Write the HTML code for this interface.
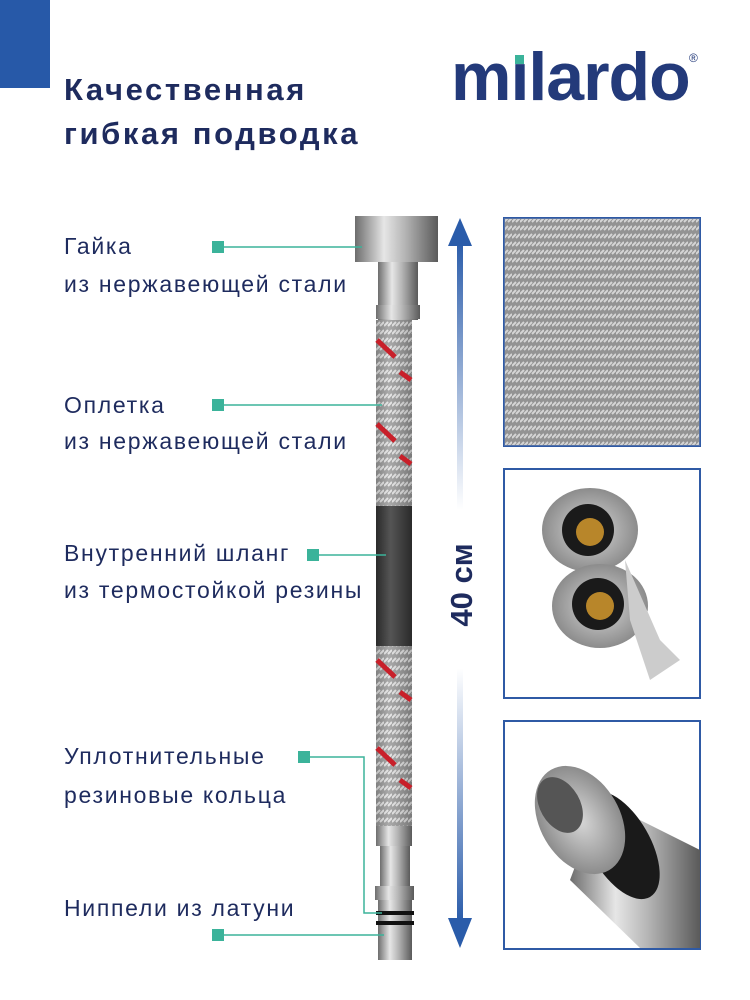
<!DOCTYPE html>
<html><head><meta charset="utf-8"><style>
body{margin:0;width:750px;height:1000px;background:#fff;position:relative;overflow:hidden;font-family:"Liberation Sans","DejaVu Sans",sans-serif;}
.t{position:absolute;color:#1e2b5e;white-space:nowrap}
.h{font-size:31px;font-weight:bold;left:64px;letter-spacing:2.6px}
.l{font-size:23px;left:64px;letter-spacing:1.7px}
</style></head><body>
<div style="position:absolute;left:0;top:0;width:50px;height:88px;background:#2759a8"></div>
<div class="t h" style="top:72px">Качественная</div>
<div class="t h" style="top:116px">гибкая подводка</div>
<div class="t" style="left:451px;top:38px;font-size:68px;font-weight:bold;color:#233a7a;letter-spacing:-1px">m<span style="position:relative">ı<span style="position:absolute;left:5px;top:16px;width:9px;height:9px;background:#3bb39a"></span></span>lardo</div>
<div class="t" style="left:689px;top:51px;font-size:12px;color:#233a7a">®</div>

<div class="t l" style="top:233px">Гайка</div>
<div class="t l" style="top:271px">из нержавеющей стали</div>
<div class="t l" style="top:392px">Оплетка</div>
<div class="t l" style="top:428px">из нержавеющей стали</div>
<div class="t l" style="top:540px">Внутренний шланг</div>
<div class="t l" style="top:577px">из термостойкой резины</div>
<div class="t l" style="top:743px">Уплотнительные</div>
<div class="t l" style="top:782px">резиновые кольца</div>
<div class="t l" style="top:895px">Ниппели из латуни</div>

<svg width="750" height="1000" style="position:absolute;left:0;top:0">
<defs>
<linearGradient id="met" x1="0" x2="1"><stop offset="0" stop-color="#6d6d6d"/><stop offset=".35" stop-color="#e6e6e6"/><stop offset=".6" stop-color="#b5b5b5"/><stop offset="1" stop-color="#5a5a5a"/></linearGradient>
<linearGradient id="blk" x1="0" x2="1"><stop offset="0" stop-color="#2a2a2a"/><stop offset=".4" stop-color="#555"/><stop offset="1" stop-color="#2a2a2a"/></linearGradient>
<linearGradient id="up" x1="0" y1="0" x2="0" y2="1"><stop offset="0" stop-color="#2a5caa"/><stop offset=".9" stop-color="#2a5caa" stop-opacity="0"/></linearGradient>
<linearGradient id="dn" x1="0" y1="1" x2="0" y2="0"><stop offset="0" stop-color="#2a5caa"/><stop offset=".9" stop-color="#2a5caa" stop-opacity="0"/></linearGradient>
<pattern id="br" width="8" height="8" patternUnits="userSpaceOnUse"><rect width="8" height="8" fill="#8a8a8a"/><path d="M0 6 L4 2 M4 6 L8 2" stroke="#e8e8e8" stroke-width="2"/></pattern>
<radialGradient id="ph1"><stop offset="0" stop-color="#d8d8d8"/><stop offset="1" stop-color="#8c8c8c"/></radialGradient>
</defs>
<rect x="355" y="216" width="83" height="46" fill="url(#met)"/>
<rect x="378" y="262" width="40" height="58" fill="url(#met)"/>
<rect x="376" y="305" width="44" height="14" fill="url(#met)"/>
<rect x="376" y="320" width="36" height="186" fill="url(#br)"/>
<rect x="376" y="320" width="36" height="186" fill="url(#met)" opacity=".35"/>
<g stroke="#c8202a" stroke-width="5"><path d="M377 340 L395 357 M400 372 L411 380 M377 424 L395 441 M400 456 L411 464"/></g>
<rect x="376" y="506" width="36" height="140" fill="url(#blk)"/>
<rect x="376" y="646" width="36" height="180" fill="url(#br)"/>
<rect x="376" y="646" width="36" height="180" fill="url(#met)" opacity=".35"/>
<g stroke="#c8202a" stroke-width="5"><path d="M377 660 L395 677 M400 692 L411 700 M377 748 L395 765 M400 780 L411 788"/></g>
<rect x="376" y="826" width="36" height="20" fill="url(#met)"/>
<rect x="380" y="846" width="30" height="40" fill="url(#met)"/>
<rect x="375" y="886" width="39" height="14" fill="url(#met)"/>
<rect x="378" y="900" width="34" height="60" fill="url(#met)"/>
<rect x="376" y="911" width="38" height="4" fill="#111"/>
<rect x="376" y="921" width="38" height="4" fill="#111"/>
<g fill="#3bb39a"><rect x="212" y="241" width="12" height="12"/><rect x="212" y="399" width="12" height="12"/><rect x="307" y="549" width="12" height="12"/><rect x="298" y="751" width="12" height="12"/><rect x="212" y="929" width="12" height="12"/></g>
<g stroke="#3bb39a" stroke-width="1.5" fill="none"><path d="M224 247 H362"/><path d="M224 405 H382"/><path d="M319 555 H386"/><path d="M310 757 H364 V913 H382"/><path d="M224 935 H384"/></g>
<rect x="457" y="240" width="6" height="300" fill="url(#up)"/>
<path d="M448 246 L460 218 L472 246 Z" fill="#2a5caa"/>
<rect x="457" y="640" width="6" height="282" fill="url(#dn)"/>
<path d="M448 918 L460 948 L472 918 Z" fill="#2a5caa"/>
<text x="472" y="585" transform="rotate(-90 472 585)" text-anchor="middle" font-family="Liberation Sans" font-size="31" font-weight="bold" fill="#1e2b5e">40 см</text>
<rect x="504" y="218" width="196" height="228" fill="url(#br)" stroke="#2f5aa5" stroke-width="2"/>
<rect x="504" y="218" width="196" height="228" fill="#aaa" opacity=".3"/>
<rect x="504" y="469" width="196" height="229" fill="#fff" stroke="#2f5aa5" stroke-width="2"/>
<ellipse cx="590" cy="530" rx="48" ry="42" fill="url(#ph1)"/><circle cx="588" cy="530" r="26" fill="#1a1a1a"/><circle cx="590" cy="532" r="14" fill="#b8862a"/>
<ellipse cx="600" cy="606" rx="48" ry="42" fill="url(#ph1)"/><circle cx="598" cy="604" r="26" fill="#1a1a1a"/><circle cx="600" cy="606" r="14" fill="#b8862a"/>
<path d="M625 560 L660 640 L680 660 L650 680 L630 620Z" fill="#ccc"/>
<rect x="504" y="721" width="196" height="228" fill="#fff" stroke="#2f5aa5" stroke-width="2"/>
<path d="M600 800 L700 850 L700 948 L640 948 L570 880Z" fill="url(#met)"/>
<ellipse cx="620" cy="845" rx="30" ry="60" fill="#1a1a1a" transform="rotate(-30 620 845)"/>
<ellipse cx="580" cy="820" rx="40" ry="58" fill="url(#ph1)" transform="rotate(-30 580 820)"/>
<ellipse cx="560" cy="805" rx="20" ry="30" fill="#555" transform="rotate(-30 560 805)"/>
</svg>
</body></html>
